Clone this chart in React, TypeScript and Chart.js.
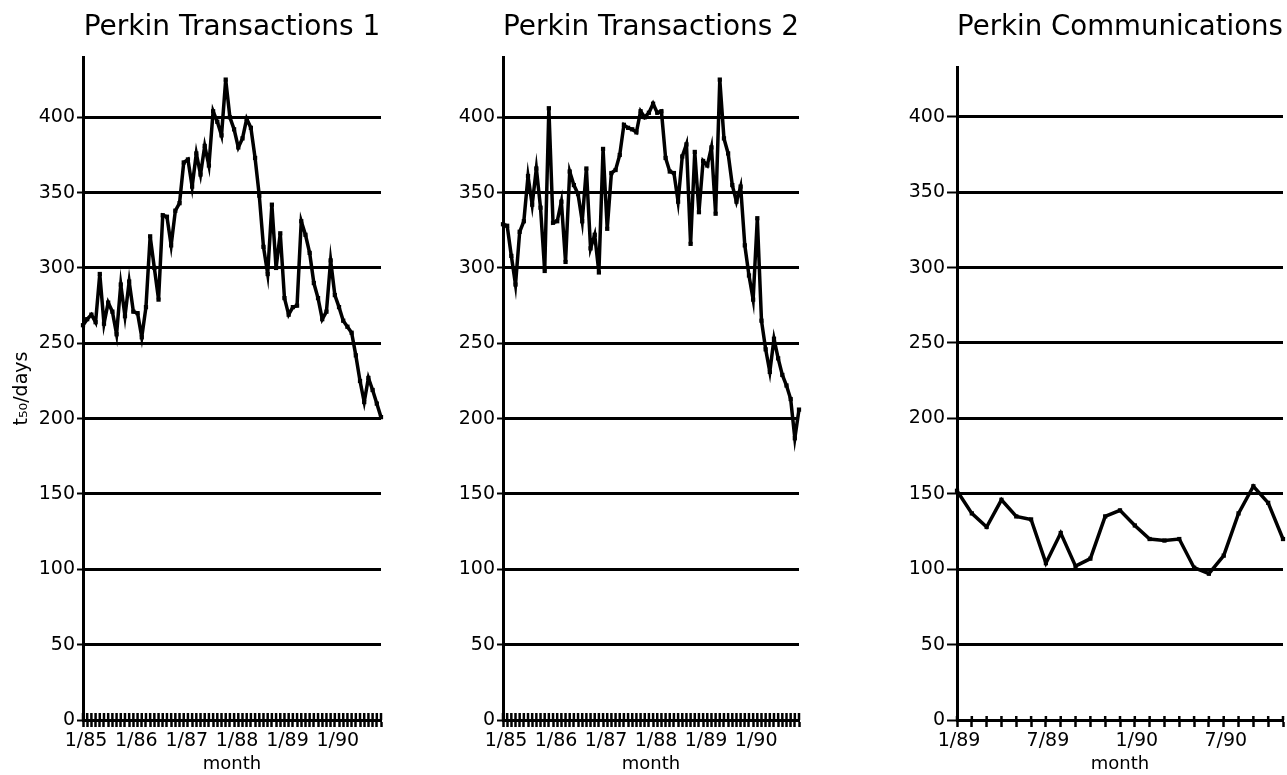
import React, { useEffect, useRef } from "react";
import { Chart, registerables } from "chart.js";

Chart.register(...registerables);

const FONT = "'DejaVu Sans', sans-serif";

// Month categories, Jan 1985 – Dec 1990 (Perkin Transactions 1 and 2)
const MONTHS_85_90 = [
  "1/85", "2/85", "3/85", "4/85", "5/85", "6/85", "7/85", "8/85", "9/85", "10/85", "11/85", "12/85",
  "1/86", "2/86", "3/86", "4/86", "5/86", "6/86", "7/86", "8/86", "9/86", "10/86", "11/86", "12/86",
  "1/87", "2/87", "3/87", "4/87", "5/87", "6/87", "7/87", "8/87", "9/87", "10/87", "11/87", "12/87",
  "1/88", "2/88", "3/88", "4/88", "5/88", "6/88", "7/88", "8/88", "9/88", "10/88", "11/88", "12/88",
  "1/89", "2/89", "3/89", "4/89", "5/89", "6/89", "7/89", "8/89", "9/89", "10/89", "11/89", "12/89",
  "1/90", "2/90", "3/90", "4/90", "5/90", "6/90", "7/90", "8/90", "9/90", "10/90", "11/90", "12/90",
];

// Month categories, Jan 1989 – Nov 1990 (Perkin Communications)
const MONTHS_89_90 = [
  "1/89", "2/89", "3/89", "4/89", "5/89", "6/89", "7/89", "8/89", "9/89", "10/89", "11/89", "12/89",
  "1/90", "2/90", "3/90", "4/90", "5/90", "6/90", "7/90", "8/90", "9/90", "10/90", "11/90",
];

// Labelled x ticks
const TICK_LABELS_85_90 = ["1/85", "1/86", "1/87", "1/88", "1/89", "1/90"];
const TICK_LABELS_89_90 = ["1/89", "7/89", "1/90", "7/90"];

// t50 / days series
const PERKIN_T1 = [
  262, 266, 269, 264, 296, 263, 277, 271, 256, 289, 268, 291,
  271, 270, 254, 274, 321, 300, 279, 335, 334, 315, 338, 343,
  370, 372, 354, 376, 362, 381, 368, 404, 397, 388, 425, 400,
  392, 380, 386, 399, 393, 373, 348, 314, 296, 342, 300, 323,
  280, 269, 274, 275, 331, 322, 310, 290, 280, 266, 271, 305,
  282, 274, 265, 261, 257, 242, 225, 211, 227, 219, 210, 201,
];

const PERKIN_T2 = [
  329, 328, 308, 289, 324, 331, 361, 342, 366, 340, 298, 406,
  330, 331, 344, 304, 364, 355, 349, 331, 366, 313, 322, 297,
  379, 326, 363, 365, 375, 395, 393, 392, 390, 404, 400, 403,
  409, 403, 404, 373, 364, 363, 344, 374, 382, 316, 377, 337,
  371, 368, 380, 336, 425, 386, 376, 355, 344, 354, 315, 295,
  279, 333, 265, 246, 231, 253, 240, 229, 222, 213, 187, 206,
];

const PERKIN_COMM = [
  152, 137, 128, 146, 135, 133, 104, 124, 102, 107, 135, 139,
  129, 120, 119, 120, 101, 97, 109, 137, 155, 144, 120,
];

const Y_STEP = 50;

type PanelProps = {
  left: number;
  width: number;
  title: string;
  labels: string[];
  values: number[];
  tickLabels: string[];
  yMax: number;
  yTitle?: string;
  titlePadBottom: number;
  yTickLen: number;
  xTickUp: number;
  padRight: number;
  labelShift: number;
};

function Panel(p: PanelProps) {
  const ref = useRef<HTMLCanvasElement | null>(null);

  useEffect(() => {
    if (!ref.current) return;
    const shown = new Set(p.tickLabels);
    const upTicks = {
      id: "upTicks",
      afterDatasetsDraw(chart: any) {
        const xs = chart.scales.x;
        const bottom = chart.chartArea.bottom;
        const ctx = chart.ctx;
        ctx.save();
        ctx.strokeStyle = "#000";
        ctx.lineWidth = 2.5;
        ctx.beginPath();
        xs.ticks.forEach((_: any, i: number) => {
          const px = xs.getPixelForTick(i);
          ctx.moveTo(px, bottom - p.xTickUp);
          ctx.lineTo(px, bottom);
        });
        ctx.stroke();
        ctx.restore();
      },
    };

    const chart = new Chart(ref.current, {
      type: "line",
      data: {
        labels: p.labels,
        datasets: [
          {
            data: p.values,
            borderColor: "#000",
            borderWidth: 3.5,
            pointStyle: "rect",
            pointRadius: 3,
            pointBackgroundColor: "#000",
            pointBorderColor: "#000",
            pointBorderWidth: 0,
            tension: 0,
            fill: false,
            clip: false as any,
          },
        ],
      },
      options: {
        animation: false,
        responsive: false,
        maintainAspectRatio: false,
        layout: { padding: { left: 0, right: p.padRight, top: 0, bottom: 0 } },
        plugins: {
          legend: { display: false },
          tooltip: { enabled: false },
          title: {
            display: true,
            text: p.title,
            fullSize: false,
            color: "#000",
            font: { family: FONT, size: 28, weight: "normal" },
            padding: { top: 11, bottom: p.titlePadBottom },
          },
        },
        scales: {
          x: {
            type: "category",
            offset: false,
            grid: {
              display: true,
              drawOnChartArea: false,
              drawTicks: true,
              tickLength: 7,
              tickWidth: 2.5,
              color: "#000",
            },
            border: { display: true, color: "#000", width: 3 },
            ticks: {
              autoSkip: false,
              maxRotation: 0,
              minRotation: 0,
              padding: 3,
              labelOffset: p.labelShift,
              color: "#000",
              font: { family: FONT, size: 19 },
              callback: (_v: any, i: number) => (shown.has(p.labels[i]) ? p.labels[i] : ""),
            },
            title: {
              display: true,
              text: "month",
              color: "#000",
              font: { family: FONT, size: 18 },
              padding: { top: 0, bottom: 0 },
            },
            afterFit: (s: any) => {
              s.height = 55;
            },
          },
          y: {
            type: "linear",
            min: 0,
            max: p.yMax,
            ticks: {
              stepSize: Y_STEP,
              includeBounds: false,
              padding: 2,
              color: "#000",
              font: { family: FONT, size: 19 },
            },
            afterBuildTicks: (s: any) => {
              s.ticks = s.ticks.filter((t: any) => t.value % Y_STEP === 0);
            },
            grid: {
              color: "#000",
              lineWidth: 3,
              drawTicks: true,
              tickLength: p.yTickLen,
              tickWidth: 2,
            },
            border: { display: true, color: "#000", width: 3 },
            title: {
              display: !!p.yTitle,
              text: p.yTitle || "",
              color: "#000",
              font: { family: FONT, size: 19 },
              padding: { top: 11, bottom: 0 },
            },
            afterFit: (s: any) => {
              s.width = 83;
            },
          },
        },
      },
      plugins: [upTicks],
    } as any);

    return () => chart.destroy();
  }, []);

  return (
    <div style={{ position: "absolute", left: p.left, top: 0, width: p.width, height: 775 }}>
      <canvas ref={ref} width={p.width} height={775} style={{ display: "block" }} />
    </div>
  );
}

export default function App() {
  return (
    <div
      style={{
        position: "fixed",
        left: 0,
        top: 0,
        width: 1287,
        height: 775,
        background: "#fff",
        overflow: "hidden",
      }}
    >
      <Panel
        left={0}
        width={400}
        title="Perkin Transactions 1"
        labels={MONTHS_85_90}
        values={PERKIN_T1}
        tickLabels={TICK_LABELS_85_90}
        yMax={440}
        yTitle="t₅₀/days"
        titlePadBottom={12.4}
        yTickLen={6}
        xTickUp={7}
        padRight={19}
        labelShift={3}
      />
      <Panel
        left={420}
        width={400}
        title="Perkin Transactions 2"
        labels={MONTHS_85_90}
        values={PERKIN_T2}
        tickLabels={TICK_LABELS_85_90}
        yMax={440}
        titlePadBottom={12.4}
        yTickLen={6}
        xTickUp={7}
        padRight={21}
        labelShift={3}
      />
      <Panel
        left={874}
        width={413}
        title="Perkin Communications"
        labels={MONTHS_89_90}
        values={PERKIN_COMM}
        tickLabels={TICK_LABELS_89_90}
        yMax={433}
        titlePadBottom={22.4}
        yTickLen={10}
        xTickUp={4}
        padRight={1}
        labelShift={2}
      />
    </div>
  );
}
